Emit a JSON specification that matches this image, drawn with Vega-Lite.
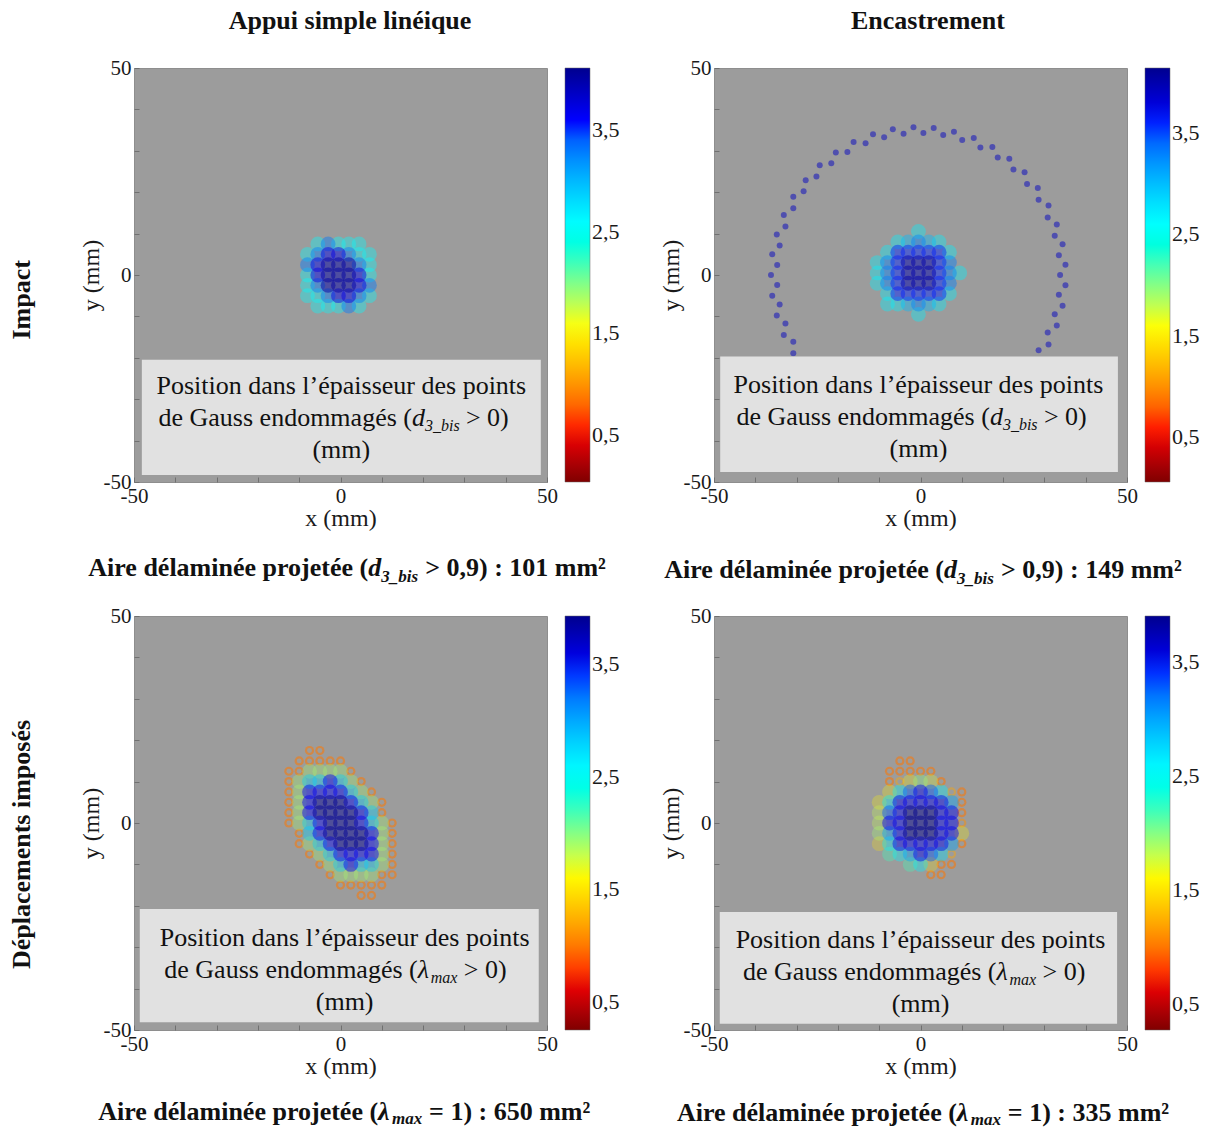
{
  "$schema": "https://vega.github.io/schema/vega-lite/v6.json",
  "autosize": "none",
  "padding": {"left": 134, "top": 68, "right": 1078, "bottom": 1060},
  "background": "white",
  "datasets": {
    "tl": [
      {"x": -5.5, "y": 7.5, "z": 2.6}, {"x": -3, "y": 7.5, "z": 3.3}, {"x": -0.5, "y": 7.5, "z": 2.6}, {"x": 2, "y": 7.5, "z": 2.6}, {"x": 4.5, "y": 7.5, "z": 2.6},
      {"x": -8, "y": 5, "z": 2.6}, {"x": -5.5, "y": 5, "z": 3.3}, {"x": -3, "y": 5, "z": 3.7}, {"x": -0.5, "y": 5, "z": 3.7}, {"x": 2, "y": 5, "z": 3.3}, {"x": 4.5, "y": 5, "z": 2.6}, {"x": 7, "y": 5, "z": 2.6},
      {"x": -8, "y": 2.5, "z": 3.3}, {"x": -5.5, "y": 2.5, "z": 3.7}, {"x": -3, "y": 2.5, "z": 4}, {"x": -0.5, "y": 2.5, "z": 4}, {"x": 2, "y": 2.5, "z": 4}, {"x": 4.5, "y": 2.5, "z": 3.3}, {"x": 7, "y": 2.5, "z": 2.6},
      {"x": -8, "y": 0, "z": 2.6}, {"x": -5.5, "y": 0, "z": 3.7}, {"x": -3, "y": 0, "z": 4}, {"x": -0.5, "y": 0, "z": 4}, {"x": 2, "y": 0, "z": 4}, {"x": 4.5, "y": 0, "z": 3.7}, {"x": 7, "y": 0, "z": 2.6},
      {"x": -8, "y": -2.5, "z": 2.6}, {"x": -5.5, "y": -2.5, "z": 3.3}, {"x": -3, "y": -2.5, "z": 4}, {"x": -0.5, "y": -2.5, "z": 4}, {"x": 2, "y": -2.5, "z": 4}, {"x": 4.5, "y": -2.5, "z": 3.7}, {"x": 7, "y": -2.5, "z": 3.3},
      {"x": -8, "y": -5, "z": 2.6}, {"x": -5.5, "y": -5, "z": 2.6}, {"x": -3, "y": -5, "z": 3.3}, {"x": -0.5, "y": -5, "z": 3.7}, {"x": 2, "y": -5, "z": 3.7}, {"x": 4.5, "y": -5, "z": 3.3}, {"x": 7, "y": -5, "z": 2.6},
      {"x": -5.5, "y": -7.5, "z": 2.6}, {"x": -3, "y": -7.5, "z": 2.6}, {"x": -0.5, "y": -7.5, "z": 2.6}, {"x": 2, "y": -7.5, "z": 3.3}, {"x": 4.5, "y": -7.5, "z": 2.6}
    ],
    "tr": [
      {"x": -0.5, "y": 10.5, "z": 2.7},
      {"x": -5.5, "y": 8, "z": 2.7}, {"x": -3, "y": 8, "z": 3.0}, {"x": -0.5, "y": 8, "z": 3.3}, {"x": 2, "y": 8, "z": 3.0}, {"x": 4.5, "y": 8, "z": 2.7},
      {"x": -8, "y": 5.5, "z": 2.7}, {"x": -5.5, "y": 5.5, "z": 3.6}, {"x": -3, "y": 5.5, "z": 3.6}, {"x": -0.5, "y": 5.5, "z": 3.6}, {"x": 2, "y": 5.5, "z": 3.6}, {"x": 4.5, "y": 5.5, "z": 3.6}, {"x": 7, "y": 5.5, "z": 2.7},
      {"x": -10.5, "y": 3, "z": 2.7}, {"x": -8, "y": 3, "z": 3.3}, {"x": -5.5, "y": 3, "z": 3.6}, {"x": -3, "y": 3, "z": 4}, {"x": -0.5, "y": 3, "z": 4}, {"x": 2, "y": 3, "z": 4}, {"x": 4.5, "y": 3, "z": 3.6}, {"x": 7, "y": 3, "z": 3.3},
      {"x": -10.5, "y": 0.5, "z": 2.7}, {"x": -8, "y": 0.5, "z": 3.3}, {"x": -5.5, "y": 0.5, "z": 3.6}, {"x": -3, "y": 0.5, "z": 4}, {"x": -0.5, "y": 0.5, "z": 4}, {"x": 2, "y": 0.5, "z": 4}, {"x": 4.5, "y": 0.5, "z": 3.6}, {"x": 7, "y": 0.5, "z": 3.3}, {"x": 9.5, "y": 0.5, "z": 2.7},
      {"x": -10.5, "y": -2, "z": 2.7}, {"x": -8, "y": -2, "z": 3.3}, {"x": -5.5, "y": -2, "z": 3.6}, {"x": -3, "y": -2, "z": 4}, {"x": -0.5, "y": -2, "z": 4}, {"x": 2, "y": -2, "z": 4}, {"x": 4.5, "y": -2, "z": 3.6}, {"x": 7, "y": -2, "z": 3.3},
      {"x": -8, "y": -4.5, "z": 2.7}, {"x": -5.5, "y": -4.5, "z": 3.6}, {"x": -3, "y": -4.5, "z": 3.6}, {"x": -0.5, "y": -4.5, "z": 3.6}, {"x": 2, "y": -4.5, "z": 3.6}, {"x": 4.5, "y": -4.5, "z": 3.6}, {"x": 7, "y": -4.5, "z": 2.7},
      {"x": -8, "y": -7, "z": 2.7}, {"x": -5.5, "y": -7, "z": 2.7}, {"x": -3, "y": -7, "z": 3.0}, {"x": -0.5, "y": -7, "z": 3.3}, {"x": 2, "y": -7, "z": 3.0}, {"x": 4.5, "y": -7, "z": 2.7},
      {"x": -0.5, "y": -9.5, "z": 2.7}
    ],
    "ring": [
      {"x": 28.6, "y": -18.2, "z": 3.9}, {"x": 31.0, "y": -16.8, "z": 3.9}, {"x": 30.8, "y": -13.9, "z": 3.9}, {"x": 33.0, "y": -12.2, "z": 3.9},
      {"x": 32.5, "y": -9.5, "z": 3.9}, {"x": 34.4, "y": -7.4, "z": 3.9}, {"x": 33.5, "y": -4.8, "z": 3.9}, {"x": 35.1, "y": -2.5, "z": 3.9},
      {"x": 33.8, "y": 0, "z": 3.9}, {"x": 35.1, "y": 2.5, "z": 3.9}, {"x": 33.5, "y": 4.8, "z": 3.9}, {"x": 34.4, "y": 7.4, "z": 3.9},
      {"x": 32.5, "y": 9.5, "z": 3.9}, {"x": 33.0, "y": 12.2, "z": 3.9}, {"x": 30.8, "y": 13.9, "z": 3.9}, {"x": 31.0, "y": 16.8, "z": 3.9},
      {"x": 28.6, "y": 18.2, "z": 3.9}, {"x": 28.4, "y": 21.0, "z": 3.9}, {"x": 25.8, "y": 22.0, "z": 3.9}, {"x": 25.2, "y": 24.8, "z": 3.9},
      {"x": 22.5, "y": 25.5, "z": 3.9}, {"x": 21.5, "y": 28.1, "z": 3.9}, {"x": 18.7, "y": 28.4, "z": 3.9}, {"x": 17.4, "y": 30.9, "z": 3.9},
      {"x": 14.5, "y": 30.8, "z": 3.9}, {"x": 12.9, "y": 33.1, "z": 3.9}, {"x": 10.1, "y": 32.6, "z": 3.9}, {"x": 8.1, "y": 34.6, "z": 3.9},
      {"x": 5.5, "y": 33.8, "z": 3.9}, {"x": 3.2, "y": 35.5, "z": 3.9}, {"x": 0.7, "y": 34.3, "z": 3.9}, {"x": -1.7, "y": 35.7, "z": 3.9},
      {"x": -4.1, "y": 34.1, "z": 3.9}, {"x": -6.7, "y": 35.2, "z": 3.9}, {"x": -8.8, "y": 33.3, "z": 3.9}, {"x": -11.5, "y": 34.0, "z": 3.9},
      {"x": -13.3, "y": 31.8, "z": 3.9}, {"x": -16.2, "y": 32.1, "z": 3.9}, {"x": -17.7, "y": 29.7, "z": 3.9}, {"x": -20.5, "y": 29.6, "z": 3.9},
      {"x": -21.6, "y": 27.0, "z": 3.9}, {"x": -24.4, "y": 26.5, "z": 3.9}, {"x": -25.2, "y": 23.8, "z": 3.9}, {"x": -27.8, "y": 22.9, "z": 3.9},
      {"x": -28.3, "y": 20.2, "z": 3.9}, {"x": -30.8, "y": 18.9, "z": 3.9}, {"x": -30.8, "y": 16.1, "z": 3.9}, {"x": -33.1, "y": 14.5, "z": 3.9},
      {"x": -32.7, "y": 11.7, "z": 3.9}, {"x": -34.8, "y": 9.8, "z": 3.9}, {"x": -34.1, "y": 7.1, "z": 3.9}, {"x": -35.9, "y": 5.0, "z": 3.9},
      {"x": -34.7, "y": 2.4, "z": 3.9}, {"x": -36.2, "y": 0, "z": 3.9}, {"x": -34.7, "y": -2.4, "z": 3.9}, {"x": -35.9, "y": -5.0, "z": 3.9},
      {"x": -34.1, "y": -7.1, "z": 3.9}, {"x": -34.8, "y": -9.8, "z": 3.9}, {"x": -32.7, "y": -11.7, "z": 3.9}, {"x": -33.1, "y": -14.5, "z": 3.9},
      {"x": -30.8, "y": -16.1, "z": 3.9}, {"x": -30.8, "y": -18.9, "z": 3.9}
    ],
    "bl": [
      {"x": -7.5, "y": 17.5, "z": 1}, {"x": -5, "y": 17.5, "z": 1},
      {"x": -10, "y": 15, "z": 1}, {"x": -7.5, "y": 15, "z": 1}, {"x": -5, "y": 15, "z": 1}, {"x": -2.5, "y": 15, "z": 1}, {"x": 0, "y": 15, "z": 1},
      {"x": -12.5, "y": 12.5, "z": 1}, {"x": -10, "y": 12.5, "z": 1}, {"x": -7.5, "y": 12.5, "z": 1.9}, {"x": -5, "y": 12.5, "z": 1.9}, {"x": -2.5, "y": 12.5, "z": 1.9}, {"x": 0, "y": 12.5, "z": 1.9}, {"x": 2.5, "y": 12.5, "z": 1},
      {"x": -12.5, "y": 10, "z": 1}, {"x": -10, "y": 10, "z": 1.9}, {"x": -7.5, "y": 10, "z": 2.8}, {"x": -5, "y": 10, "z": 2.8}, {"x": -2.5, "y": 10, "z": 3.5}, {"x": 0, "y": 10, "z": 2.8}, {"x": 2.5, "y": 10, "z": 1.9}, {"x": 5, "y": 10, "z": 1},
      {"x": -12.5, "y": 7.5, "z": 1}, {"x": -10, "y": 7.5, "z": 1.9}, {"x": -7.5, "y": 7.5, "z": 3.5}, {"x": -5, "y": 7.5, "z": 3.5}, {"x": -2.5, "y": 7.5, "z": 3.5}, {"x": 0, "y": 7.5, "z": 3.5}, {"x": 2.5, "y": 7.5, "z": 2.8}, {"x": 5, "y": 7.5, "z": 1.9}, {"x": 7.5, "y": 7.5, "z": 1},
      {"x": -12.5, "y": 5, "z": 1}, {"x": -10, "y": 5, "z": 1.9}, {"x": -7.5, "y": 5, "z": 3.5}, {"x": -5, "y": 5, "z": 3.9}, {"x": -2.5, "y": 5, "z": 3.9}, {"x": 0, "y": 5, "z": 3.9}, {"x": 2.5, "y": 5, "z": 3.5}, {"x": 5, "y": 5, "z": 2.8}, {"x": 7.5, "y": 5, "z": 1.9}, {"x": 10, "y": 5, "z": 1},
      {"x": -12.5, "y": 2.5, "z": 1}, {"x": -10, "y": 2.5, "z": 1.9}, {"x": -7.5, "y": 2.5, "z": 3.5}, {"x": -5, "y": 2.5, "z": 3.9}, {"x": -2.5, "y": 2.5, "z": 3.9}, {"x": 0, "y": 2.5, "z": 3.9}, {"x": 2.5, "y": 2.5, "z": 3.9}, {"x": 5, "y": 2.5, "z": 3.5}, {"x": 7.5, "y": 2.5, "z": 2.8}, {"x": 10, "y": 2.5, "z": 1},
      {"x": -12.5, "y": 0, "z": 1}, {"x": -10, "y": 0, "z": 1.9}, {"x": -7.5, "y": 0, "z": 2.8}, {"x": -5, "y": 0, "z": 3.5}, {"x": -2.5, "y": 0, "z": 3.9}, {"x": 0, "y": 0, "z": 3.9}, {"x": 2.5, "y": 0, "z": 3.9}, {"x": 5, "y": 0, "z": 3.5}, {"x": 7.5, "y": 0, "z": 2.8}, {"x": 10, "y": 0, "z": 1.9}, {"x": 12.5, "y": 0, "z": 1},
      {"x": -10, "y": -2.5, "z": 1}, {"x": -7.5, "y": -2.5, "z": 2.8}, {"x": -5, "y": -2.5, "z": 3.5}, {"x": -2.5, "y": -2.5, "z": 3.9}, {"x": 0, "y": -2.5, "z": 3.9}, {"x": 2.5, "y": -2.5, "z": 3.9}, {"x": 5, "y": -2.5, "z": 3.9}, {"x": 7.5, "y": -2.5, "z": 3.5}, {"x": 10, "y": -2.5, "z": 1.9}, {"x": 12.5, "y": -2.5, "z": 1},
      {"x": -10, "y": -5, "z": 1}, {"x": -7.5, "y": -5, "z": 1.9}, {"x": -5, "y": -5, "z": 2.8}, {"x": -2.5, "y": -5, "z": 3.5}, {"x": 0, "y": -5, "z": 3.9}, {"x": 2.5, "y": -5, "z": 3.9}, {"x": 5, "y": -5, "z": 3.9}, {"x": 7.5, "y": -5, "z": 3.5}, {"x": 10, "y": -5, "z": 1.9}, {"x": 12.5, "y": -5, "z": 1},
      {"x": -7.5, "y": -7.5, "z": 1}, {"x": -5, "y": -7.5, "z": 1.9}, {"x": -2.5, "y": -7.5, "z": 2.8}, {"x": 0, "y": -7.5, "z": 3.5}, {"x": 2.5, "y": -7.5, "z": 3.5}, {"x": 5, "y": -7.5, "z": 3.5}, {"x": 7.5, "y": -7.5, "z": 3.5}, {"x": 10, "y": -7.5, "z": 1.9}, {"x": 12.5, "y": -7.5, "z": 1},
      {"x": -5, "y": -10, "z": 1}, {"x": -2.5, "y": -10, "z": 1.9}, {"x": 0, "y": -10, "z": 2.8}, {"x": 2.5, "y": -10, "z": 3.5}, {"x": 5, "y": -10, "z": 2.8}, {"x": 7.5, "y": -10, "z": 2.8}, {"x": 10, "y": -10, "z": 1.9}, {"x": 12.5, "y": -10, "z": 1},
      {"x": -2.5, "y": -12.5, "z": 1}, {"x": 0, "y": -12.5, "z": 1.9}, {"x": 2.5, "y": -12.5, "z": 1.9}, {"x": 5, "y": -12.5, "z": 1.9}, {"x": 7.5, "y": -12.5, "z": 1.9}, {"x": 10, "y": -12.5, "z": 1}, {"x": 12.5, "y": -12.5, "z": 1},
      {"x": 0, "y": -15, "z": 1}, {"x": 2.5, "y": -15, "z": 1}, {"x": 5, "y": -15, "z": 1}, {"x": 7.5, "y": -15, "z": 1}, {"x": 10, "y": -15, "z": 1},
      {"x": 5, "y": -17.5, "z": 1}, {"x": 7.5, "y": -17.5, "z": 1}
    ],
    "br": [
      {"x": 0, "y": 7.5, "z": 3.5},
      {"x": -5, "y": 5, "z": 3.5}, {"x": -2.5, "y": 5, "z": 3.5}, {"x": 0, "y": 5, "z": 3.5}, {"x": 2.5, "y": 5, "z": 3.5}, {"x": 5, "y": 5, "z": 3.5},
      {"x": -5, "y": 2.5, "z": 3.5}, {"x": -2.5, "y": 2.5, "z": 3.9}, {"x": 0, "y": 2.5, "z": 3.9}, {"x": 2.5, "y": 2.5, "z": 3.9}, {"x": 5, "y": 2.5, "z": 3.5},
      {"x": -7.5, "y": 0, "z": 3.5}, {"x": -5, "y": 0, "z": 3.5}, {"x": -2.5, "y": 0, "z": 3.9}, {"x": 0, "y": 0, "z": 3.9}, {"x": 2.5, "y": 0, "z": 3.9}, {"x": 5, "y": 0, "z": 3.5}, {"x": 7.5, "y": 0, "z": 3.5},
      {"x": -5, "y": -2.5, "z": 3.5}, {"x": -2.5, "y": -2.5, "z": 3.9}, {"x": 0, "y": -2.5, "z": 3.9}, {"x": 2.5, "y": -2.5, "z": 3.9}, {"x": 5, "y": -2.5, "z": 3.5},
      {"x": -5, "y": -5, "z": 3.5}, {"x": -2.5, "y": -5, "z": 3.5}, {"x": 0, "y": -5, "z": 3.5}, {"x": 2.5, "y": -5, "z": 3.5}, {"x": 5, "y": -5, "z": 3.5},
      {"x": 0, "y": -7.5, "z": 3.5},
      {"x": -2.5, "y": 7.5, "z": 3.3}, {"x": 2.5, "y": 7.5, "z": 3.3}, {"x": -5, "y": 7.5, "z": 2.6}, {"x": 5, "y": 7.5, "z": 2.6},
      {"x": -7.5, "y": 5, "z": 2.6}, {"x": 7.5, "y": 5, "z": 3.0}, {"x": -7.5, "y": 2.5, "z": 3.3}, {"x": 7.5, "y": 2.5, "z": 3.5},
      {"x": -7.5, "y": -2.5, "z": 3.0}, {"x": 7.5, "y": -2.5, "z": 3.5}, {"x": -7.5, "y": -5, "z": 2.6}, {"x": 7.5, "y": -5, "z": 3.0},
      {"x": -2.5, "y": -7.5, "z": 3.0}, {"x": 2.5, "y": -7.5, "z": 3.3}, {"x": -5, "y": -7.5, "z": 2.6}, {"x": 5, "y": -7.5, "z": 2.7},
      {"x": -10, "y": 5, "z": 1.6}, {"x": -10, "y": 2.5, "z": 1.8}, {"x": -10, "y": 0, "z": 1.8}, {"x": -10, "y": -2.5, "z": 1.9}, {"x": -10, "y": -5, "z": 1.5},
      {"x": -7.5, "y": 7.5, "z": 1.6}, {"x": -7.5, "y": -7.5, "z": 2.2},
      {"x": 0, "y": 10, "z": 2.0}, {"x": -2.5, "y": 10, "z": 1.6}, {"x": 2.5, "y": 10, "z": 1.7}, {"x": -5, "y": 10, "z": 1.2}, {"x": 5, "y": 10, "z": 1.0}, {"x": -7.5, "y": 10, "z": 1.0},
      {"x": -7.5, "y": 12.5, "z": 1.0}, {"x": -5, "y": 12.5, "z": 1.0}, {"x": -2.5, "y": 12.5, "z": 1.0}, {"x": 0, "y": 12.5, "z": 1.0}, {"x": 2.5, "y": 12.5, "z": 1.0},
      {"x": -5, "y": 15, "z": 1.0}, {"x": -2.5, "y": 15, "z": 1.0},
      {"x": 10, "y": 7.5, "z": 1.0}, {"x": 10, "y": 5, "z": 1.0}, {"x": 10, "y": 2.5, "z": 1.0}, {"x": 10, "y": 0, "z": 1.1}, {"x": 10, "y": -2.5, "z": 1.6}, {"x": 7.5, "y": 7.5, "z": 1.2},
      {"x": 0, "y": -10, "z": 2.6}, {"x": -2.5, "y": -10, "z": 2.2}, {"x": 2.5, "y": -10, "z": 1.5}, {"x": 5, "y": -10, "z": 1.0}, {"x": 7.5, "y": -10, "z": 1.0},
      {"x": 7.5, "y": -7.5, "z": 1.2}, {"x": 10, "y": -5, "z": 1.0}, {"x": 5, "y": -12.5, "z": 1.0}, {"x": 2.5, "y": -12.5, "z": 1.0}
    ]
  },
  "columns": 2,
  "spacing": {"row": 134, "column": 167},
  "bounds": "flush",
  "resolve": {"scale": {"color": "independent", "opacity": "independent"}, "legend": {"color": "independent"}},
  "concat": [
    {
      "width": 413, "height": 414,
      "data": {"values": [{}]},
      "layer": [
        {
          "data": {"name": "tl"},
          "mark": {"type": "circle", "size": 220, "opacity": 1},
          "encoding": {
            "x": {"field": "x", "type": "quantitative", "scale": {"domain": [-50, 50], "nice": false}, "axis": {"title": "x (mm)", "values": [-50, -40, -30, -20, -10, 0, 10, 20, 30, 40, 50], "labelExpr": "datum.value % 50 === 0 ? toString(datum.value) : ''"}},
            "y": {"field": "y", "type": "quantitative", "scale": {"domain": [-50, 50], "nice": false}, "axis": {"title": "y (mm)", "values": [-50, -40, -30, -20, -10, 0, 10, 20, 30, 40, 50], "labelExpr": "datum.value % 50 === 0 ? toString(datum.value) : ''"}},
            "color": {"field": "z", "type": "quantitative", "scale": {"domain": [0.04, 0.55, 1.57, 2.58, 3.6, 4.11], "range": ["#800000", "#ff0000", "#ffff00", "#00ffff", "#0000ff", "#00008f"]}, "legend": {"type": "gradient", "title": null, "values": [0.5, 1.5, 2.5, 3.5], "labelExpr": "replace(format(datum.value, '.1f'), '.', ',')"}},
            "opacity": {"field": "z", "type": "quantitative", "scale": {"domain": [1, 1.5, 4], "range": [0.55, 0.26, 0.5], "clamp": true}, "legend": null},
            "order": {"field": "z", "type": "quantitative"}
          }
        },
        {"mark": {"type": "text", "text": "Appui simple linéique", "fontWeight": "bold", "align": "center"}, "encoding": {"x": {"datum": 2.3}, "y": {"datum": 59.4}}},
        {"mark": {"type": "text", "text": "Impact", "fontWeight": "bold", "angle": 270, "align": "center", "baseline": "middle"}, "encoding": {"x": {"datum": -77.1}, "y": {"datum": -6}}},
        {"mark": {"type": "rect", "fill": "#e1e1e1"}, "encoding": {"x": {"datum": -48.1}, "x2": {"datum": 48.5}, "y": {"datum": -20.5}, "y2": {"datum": -48.3}}},
        {"mark": {"type": "text", "text": "Position dans l’épaisseur des points", "align": "center"}, "encoding": {"x": {"datum": 0.2}, "y": {"datum": -28.7}}},
        {"mark": {"type": "text", "text": "de Gauss endommagés (", "align": "right"}, "encoding": {"x": {"datum": 17.3}, "y": {"datum": -36.4}}},
        {"mark": {"type": "text", "text": "d", "fontStyle": "italic", "align": "left"}, "encoding": {"x": {"datum": 17.3}, "y": {"datum": -36.4}}},
        {"mark": {"type": "text", "text": "3_bis", "fontStyle": "italic", "fontSize": 16, "align": "left", "dx": 13, "dy": 5}, "encoding": {"x": {"datum": 17.3}, "y": {"datum": -36.4}}},
        {"mark": {"type": "text", "text": "> 0)", "align": "left", "dx": 54}, "encoding": {"x": {"datum": 17.3}, "y": {"datum": -36.4}}},
        {"mark": {"type": "text", "text": "(mm)", "align": "center"}, "encoding": {"x": {"datum": 0.2}, "y": {"datum": -44.1}}},
        {"mark": {"type": "text", "text": "Aire délaminée projetée (", "fontWeight": "bold", "align": "right"}, "encoding": {"x": {"datum": 6.7}, "y": {"datum": -72.7}}},
        {"mark": {"type": "text", "text": "d", "fontWeight": "bold", "fontStyle": "italic", "align": "left"}, "encoding": {"x": {"datum": 6.7}, "y": {"datum": -72.7}}},
        {"mark": {"type": "text", "text": "3_bis", "fontWeight": "bold", "fontStyle": "italic", "fontSize": 17, "align": "left", "dx": 13, "dy": 6}, "encoding": {"x": {"datum": 6.7}, "y": {"datum": -72.7}}},
        {"mark": {"type": "text", "text": "> 0,9) : 101 mm²", "fontWeight": "bold", "align": "left", "dx": 57}, "encoding": {"x": {"datum": 6.7}, "y": {"datum": -72.7}}}
      ]
    },
    {
      "width": 413, "height": 414,
      "data": {"values": [{}]},
      "layer": [
        {
          "data": {"name": "ring"},
          "mark": {"type": "circle", "size": 36, "opacity": 1},
          "encoding": {
            "x": {"field": "x", "type": "quantitative", "scale": {"domain": [-50, 50], "nice": false}, "axis": {"title": "x (mm)"}},
            "y": {"field": "y", "type": "quantitative", "scale": {"domain": [-50, 50], "nice": false}, "axis": {"title": "y (mm)"}},
            "color": {"field": "z", "type": "quantitative"},
            "opacity": {"field": "z", "type": "quantitative"}
          }
        },
        {
          "data": {"name": "tr"},
          "mark": {"type": "circle", "size": 220, "opacity": 1},
          "encoding": {
            "x": {"field": "x", "type": "quantitative", "scale": {"domain": [-50, 50], "nice": false}, "axis": {"title": "x (mm)", "values": [-50, -40, -30, -20, -10, 0, 10, 20, 30, 40, 50], "labelExpr": "datum.value % 50 === 0 ? toString(datum.value) : ''"}},
            "y": {"field": "y", "type": "quantitative", "scale": {"domain": [-50, 50], "nice": false}, "axis": {"title": "y (mm)", "values": [-50, -40, -30, -20, -10, 0, 10, 20, 30, 40, 50], "labelExpr": "datum.value % 50 === 0 ? toString(datum.value) : ''"}},
            "color": {"field": "z", "type": "quantitative", "scale": {"domain": [0.06, 0.57, 1.59, 2.61, 3.63, 4.14], "range": ["#800000", "#ff0000", "#ffff00", "#00ffff", "#0000ff", "#00008f"]}, "legend": {"type": "gradient", "title": null, "values": [0.5, 1.5, 2.5, 3.5], "labelExpr": "replace(format(datum.value, '.1f'), '.', ',')"}},
            "opacity": {"field": "z", "type": "quantitative", "scale": {"domain": [1, 1.5, 4], "range": [0.55, 0.26, 0.5], "clamp": true}, "legend": null},
            "order": {"field": "z", "type": "quantitative"}
          }
        },
        {"mark": {"type": "text", "text": "Encastrement", "fontWeight": "bold", "align": "center"}, "encoding": {"x": {"datum": 1.8}, "y": {"datum": 59.5}}},
        {"mark": {"type": "rect", "fill": "#e1e1e1"}, "encoding": {"x": {"datum": -48.5}, "x2": {"datum": 47.8}, "y": {"datum": -19.7}, "y2": {"datum": -47.6}}},
        {"mark": {"type": "text", "text": "Position dans l’épaisseur des points", "align": "center"}, "encoding": {"x": {"datum": -0.5}, "y": {"datum": -28.4}}},
        {"mark": {"type": "text", "text": "de Gauss endommagés (", "align": "right"}, "encoding": {"x": {"datum": 16.8}, "y": {"datum": -36.2}}},
        {"mark": {"type": "text", "text": "d", "fontStyle": "italic", "align": "left"}, "encoding": {"x": {"datum": 16.8}, "y": {"datum": -36.2}}},
        {"mark": {"type": "text", "text": "3_bis", "fontStyle": "italic", "fontSize": 16, "align": "left", "dx": 13, "dy": 5}, "encoding": {"x": {"datum": 16.8}, "y": {"datum": -36.2}}},
        {"mark": {"type": "text", "text": "> 0)", "align": "left", "dx": 54}, "encoding": {"x": {"datum": 16.8}, "y": {"datum": -36.2}}},
        {"mark": {"type": "text", "text": "(mm)", "align": "center"}, "encoding": {"x": {"datum": -0.5}, "y": {"datum": -43.9}}},
        {"mark": {"type": "text", "text": "Aire délaminée projetée (", "fontWeight": "bold", "align": "right"}, "encoding": {"x": {"datum": 5.7}, "y": {"datum": -73.3}}},
        {"mark": {"type": "text", "text": "d", "fontWeight": "bold", "fontStyle": "italic", "align": "left"}, "encoding": {"x": {"datum": 5.7}, "y": {"datum": -73.3}}},
        {"mark": {"type": "text", "text": "3_bis", "fontWeight": "bold", "fontStyle": "italic", "fontSize": 17, "align": "left", "dx": 13, "dy": 6}, "encoding": {"x": {"datum": 5.7}, "y": {"datum": -73.3}}},
        {"mark": {"type": "text", "text": "> 0,9) : 149 mm²", "fontWeight": "bold", "align": "left", "dx": 57}, "encoding": {"x": {"datum": 5.7}, "y": {"datum": -73.3}}}
      ]
    },
    {
      "width": 413, "height": 414,
      "data": {"values": [{}]},
      "layer": [
        {
          "data": {"name": "bl"},
          "transform": [{"filter": "datum.z < 1.3"}],
          "mark": {"type": "circle", "size": 85, "opacity": 1},
          "encoding": {
            "x": {"field": "x", "type": "quantitative", "scale": {"domain": [-50, 50], "nice": false}, "axis": {"title": "x (mm)"}},
            "y": {"field": "y", "type": "quantitative", "scale": {"domain": [-50, 50], "nice": false}, "axis": {"title": "y (mm)"}},
            "color": {"field": "z", "type": "quantitative"},
            "opacity": {"field": "z", "type": "quantitative"}
          }
        },
        {
          "data": {"name": "bl"},
          "transform": [{"filter": "datum.z < 1.3"}],
          "mark": {"type": "circle", "size": 24, "opacity": 1},
          "encoding": {
            "x": {"field": "x", "type": "quantitative", "axis": {"title": "x (mm)"}},
            "y": {"field": "y", "type": "quantitative", "axis": {"title": "y (mm)"}},
            "color": {"value": "#9c9c9c"}
          }
        },
        {
          "data": {"name": "bl"},
          "transform": [{"filter": "datum.z >= 1.3"}],
          "mark": {"type": "circle", "size": 220, "opacity": 1},
          "encoding": {
            "x": {"field": "x", "type": "quantitative", "scale": {"domain": [-50, 50], "nice": false}, "axis": {"title": "x (mm)", "values": [-50, -40, -30, -20, -10, 0, 10, 20, 30, 40, 50], "labelExpr": "datum.value % 50 === 0 ? toString(datum.value) : ''"}},
            "y": {"field": "y", "type": "quantitative", "scale": {"domain": [-50, 50], "nice": false}, "axis": {"title": "y (mm)", "values": [-50, -40, -30, -20, -10, 0, 10, 20, 30, 40, 50], "labelExpr": "datum.value % 50 === 0 ? toString(datum.value) : ''"}},
            "color": {"field": "z", "type": "quantitative", "scale": {"domain": [0.25, 0.71, 1.63, 2.55, 3.47, 3.93], "range": ["#800000", "#ff0000", "#ffff00", "#00ffff", "#0000ff", "#00008f"]}, "legend": {"type": "gradient", "title": null, "values": [0.5, 1.5, 2.5, 3.5], "labelExpr": "replace(format(datum.value, '.1f'), '.', ',')"}},
            "opacity": {"field": "z", "type": "quantitative", "scale": {"domain": [1, 1.5, 4], "range": [0.55, 0.26, 0.5], "clamp": true}, "legend": null},
            "order": {"field": "z", "type": "quantitative"}
          }
        },
        {"mark": {"type": "text", "text": "Déplacements imposés", "fontWeight": "bold", "angle": 270, "align": "center", "baseline": "middle"}, "encoding": {"x": {"datum": -77.2}, "y": {"datum": -5.2}}},
        {"mark": {"type": "rect", "fill": "#e1e1e1"}, "encoding": {"x": {"datum": -48.6}, "x2": {"datum": 48.0}, "y": {"datum": -20.8}, "y2": {"datum": -48.1}}},
        {"mark": {"type": "text", "text": "Position dans l’épaisseur des points", "align": "center"}, "encoding": {"x": {"datum": 1.0}, "y": {"datum": -29.7}}},
        {"mark": {"type": "text", "text": "de Gauss endommagés (", "align": "right"}, "encoding": {"x": {"datum": 18.7}, "y": {"datum": -37.5}}},
        {"mark": {"type": "text", "text": "λ", "fontStyle": "italic", "align": "left"}, "encoding": {"x": {"datum": 18.7}, "y": {"datum": -37.5}}},
        {"mark": {"type": "text", "text": "max", "fontStyle": "italic", "fontSize": 16, "align": "left", "dx": 13, "dy": 5}, "encoding": {"x": {"datum": 18.7}, "y": {"datum": -37.5}}},
        {"mark": {"type": "text", "text": "> 0)", "align": "left", "dx": 46}, "encoding": {"x": {"datum": 18.7}, "y": {"datum": -37.5}}},
        {"mark": {"type": "text", "text": "(mm)", "align": "center"}, "encoding": {"x": {"datum": 1.0}, "y": {"datum": -45.2}}},
        {"mark": {"type": "text", "text": "Aire délaminée projetée (", "fontWeight": "bold", "align": "right"}, "encoding": {"x": {"datum": 9.1}, "y": {"datum": -71.8}}},
        {"mark": {"type": "text", "text": "λ", "fontWeight": "bold", "fontStyle": "italic", "align": "left"}, "encoding": {"x": {"datum": 9.1}, "y": {"datum": -71.8}}},
        {"mark": {"type": "text", "text": "max", "fontWeight": "bold", "fontStyle": "italic", "fontSize": 17, "align": "left", "dx": 14, "dy": 4}, "encoding": {"x": {"datum": 9.1}, "y": {"datum": -71.8}}},
        {"mark": {"type": "text", "text": "= 1) : 650 mm²", "fontWeight": "bold", "align": "left", "dx": 51}, "encoding": {"x": {"datum": 9.1}, "y": {"datum": -71.8}}}
      ]
    },
    {
      "width": 413, "height": 414,
      "data": {"values": [{}]},
      "layer": [
        {
          "data": {"name": "br"},
          "transform": [{"filter": "datum.z < 1.3"}],
          "mark": {"type": "circle", "size": 85, "opacity": 1},
          "encoding": {
            "x": {"field": "x", "type": "quantitative", "scale": {"domain": [-50, 50], "nice": false}, "axis": {"title": "x (mm)"}},
            "y": {"field": "y", "type": "quantitative", "scale": {"domain": [-50, 50], "nice": false}, "axis": {"title": "y (mm)"}},
            "color": {"field": "z", "type": "quantitative"},
            "opacity": {"field": "z", "type": "quantitative"}
          }
        },
        {
          "data": {"name": "br"},
          "transform": [{"filter": "datum.z < 1.3"}],
          "mark": {"type": "circle", "size": 24, "opacity": 1},
          "encoding": {
            "x": {"field": "x", "type": "quantitative", "axis": {"title": "x (mm)"}},
            "y": {"field": "y", "type": "quantitative", "axis": {"title": "y (mm)"}},
            "color": {"value": "#9c9c9c"}
          }
        },
        {
          "data": {"name": "br"},
          "transform": [{"filter": "datum.z >= 1.3"}],
          "mark": {"type": "circle", "size": 220, "opacity": 1},
          "encoding": {
            "x": {"field": "x", "type": "quantitative", "scale": {"domain": [-50, 50], "nice": false}, "axis": {"title": "x (mm)", "values": [-50, -40, -30, -20, -10, 0, 10, 20, 30, 40, 50], "labelExpr": "datum.value % 50 === 0 ? toString(datum.value) : ''"}},
            "y": {"field": "y", "type": "quantitative", "scale": {"domain": [-50, 50], "nice": false}, "axis": {"title": "y (mm)", "values": [-50, -40, -30, -20, -10, 0, 10, 20, 30, 40, 50], "labelExpr": "datum.value % 50 === 0 ? toString(datum.value) : ''"}},
            "color": {"field": "z", "type": "quantitative", "scale": {"domain": [0.27, 0.72, 1.63, 2.54, 3.45, 3.9], "range": ["#800000", "#ff0000", "#ffff00", "#00ffff", "#0000ff", "#00008f"]}, "legend": {"type": "gradient", "title": null, "values": [0.5, 1.5, 2.5, 3.5], "labelExpr": "replace(format(datum.value, '.1f'), '.', ',')"}},
            "opacity": {"field": "z", "type": "quantitative", "scale": {"domain": [1, 1.5, 4], "range": [0.55, 0.26, 0.5], "clamp": true}, "legend": null},
            "order": {"field": "z", "type": "quantitative"}
          }
        },
        {"mark": {"type": "rect", "fill": "#e1e1e1"}, "encoding": {"x": {"datum": -48.6}, "x2": {"datum": 47.6}, "y": {"datum": -21.5}, "y2": {"datum": -48.5}}},
        {"mark": {"type": "text", "text": "Position dans l’épaisseur des points", "align": "center"}, "encoding": {"x": {"datum": 0}, "y": {"datum": -30.2}}},
        {"mark": {"type": "text", "text": "de Gauss endommagés (", "align": "right"}, "encoding": {"x": {"datum": 18.4}, "y": {"datum": -38.0}}},
        {"mark": {"type": "text", "text": "λ", "fontStyle": "italic", "align": "left"}, "encoding": {"x": {"datum": 18.4}, "y": {"datum": -38.0}}},
        {"mark": {"type": "text", "text": "max", "fontStyle": "italic", "fontSize": 16, "align": "left", "dx": 13, "dy": 5}, "encoding": {"x": {"datum": 18.4}, "y": {"datum": -38.0}}},
        {"mark": {"type": "text", "text": "> 0)", "align": "left", "dx": 46}, "encoding": {"x": {"datum": 18.4}, "y": {"datum": -38.0}}},
        {"mark": {"type": "text", "text": "(mm)", "align": "center"}, "encoding": {"x": {"datum": 0}, "y": {"datum": -45.7}}},
        {"mark": {"type": "text", "text": "Aire délaminée projetée (", "fontWeight": "bold", "align": "right"}, "encoding": {"x": {"datum": 8.8}, "y": {"datum": -72.0}}},
        {"mark": {"type": "text", "text": "λ", "fontWeight": "bold", "fontStyle": "italic", "align": "left"}, "encoding": {"x": {"datum": 8.8}, "y": {"datum": -72.0}}},
        {"mark": {"type": "text", "text": "max", "fontWeight": "bold", "fontStyle": "italic", "fontSize": 17, "align": "left", "dx": 14, "dy": 4}, "encoding": {"x": {"datum": 8.8}, "y": {"datum": -72.0}}},
        {"mark": {"type": "text", "text": "= 1) : 335 mm²", "fontWeight": "bold", "align": "left", "dx": 51}, "encoding": {"x": {"datum": 8.8}, "y": {"datum": -72.0}}}
      ]
    }
  ],
  "config": {
    "font": "Liberation Serif",
    "view": {"fill": "#9c9c9c", "stroke": "#8e8e8e", "strokeWidth": 1},
    "text": {"font": "Liberation Serif", "fontSize": 26, "color": "#111111", "baseline": "alphabetic"},
    "axis": {
      "labelFont": "Liberation Serif", "labelFontSize": 21, "labelColor": "#1a1a1a",
      "titleFont": "Liberation Serif", "titleFontSize": 24, "titleFontWeight": "normal", "titleColor": "#1a1a1a",
      "grid": false, "domain": false, "tickSize": -5, "tickColor": "#707070", "tickWidth": 1,
      "labelFlush": false, "labelOverlap": false, "labelPadding": 8, "titlePadding": 0
    },
    "legend": {
      "gradientLength": 414, "gradientThickness": 25, "offset": 18, "padding": 0,
      "labelFont": "Liberation Serif", "labelFontSize": 22, "labelColor": "#1a1a1a", "labelOffset": 3,
      "gradientStrokeColor": "#666666", "gradientStrokeWidth": 0.5, "labelOverlap": false
    }
  }
}
